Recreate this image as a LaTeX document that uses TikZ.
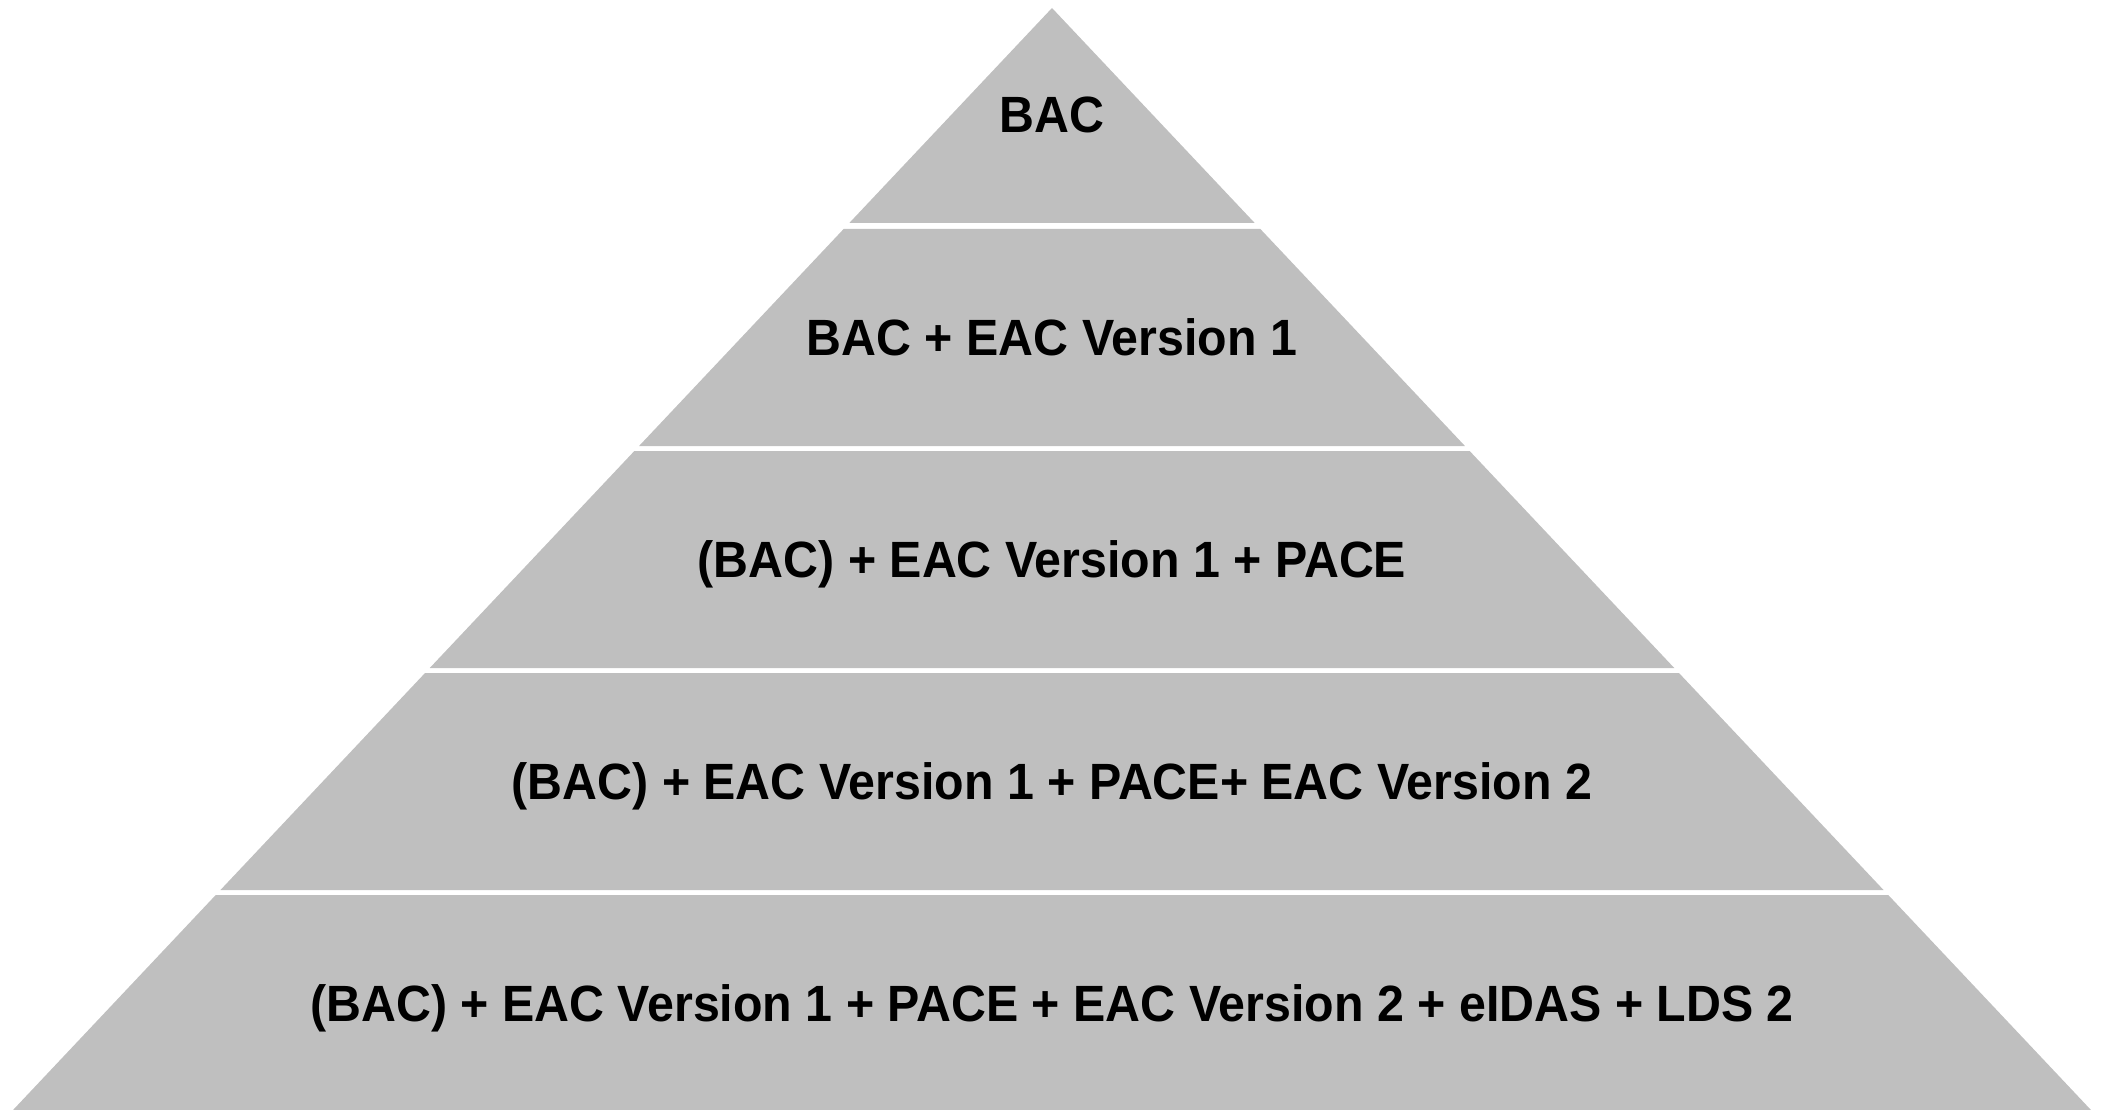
\documentclass[tikz,border=0pt]{standalone}
\usepackage{fontspec}
\setmainfont{Liberation Sans}[FakeStretch=0.948]
\definecolor{bandgray}{RGB}{191,191,191}
\begin{document}
\begin{tikzpicture}[x=1pt,y=-1pt,
  band/.style={fill=bandgray,draw=none},
  lbl/.style={anchor=base,inner sep=0pt,font=\fontsize{51}{60}\selectfont\bfseries}]
% page frame
\useasboundingbox (0,0) rectangle (2105,1110);
% pyramid: apex at (1052,8), sides spread 0.9428 per unit of height
\def\k{0.9428}
\def\apx{1052}
\def\apy{8}
% tiers (top y, bottom y)
\fill[band] (\apx,\apy) -- ({\apx+(223-\apy)*\k},223) -- ({\apx-(223-\apy)*\k},223) -- cycle;
\foreach \yt/\yb in {229/446, 451/668, 673/890, 895/1110}{
  \fill[band] ({\apx-(\yt-\apy)*\k},\yt) -- ({\apx+(\yt-\apy)*\k},\yt)
              -- ({\apx+(\yb-\apy)*\k},\yb) -- ({\apx-(\yb-\apy)*\k},\yb) -- cycle;
}
% tier labels (base line = centre + half cap height)
\node[lbl] (t1) at (1052,133) {BAC};
\node[lbl] (t2) at (1052,355.5) {BAC + EAC Version 1};
\node[lbl] (t3) at (1052,577.5) {(BAC) + EAC Version 1 + PACE};
\node[lbl] (t4) at (1052,799.5) {(BAC) + EAC Version 1 + PACE+ EAC Version 2};
\node[lbl] (t5) at (1052,1021) {(BAC) + EAC Version 1 + PACE + EAC Version 2 + eIDAS + LDS 2};
\end{tikzpicture}
\end{document}
